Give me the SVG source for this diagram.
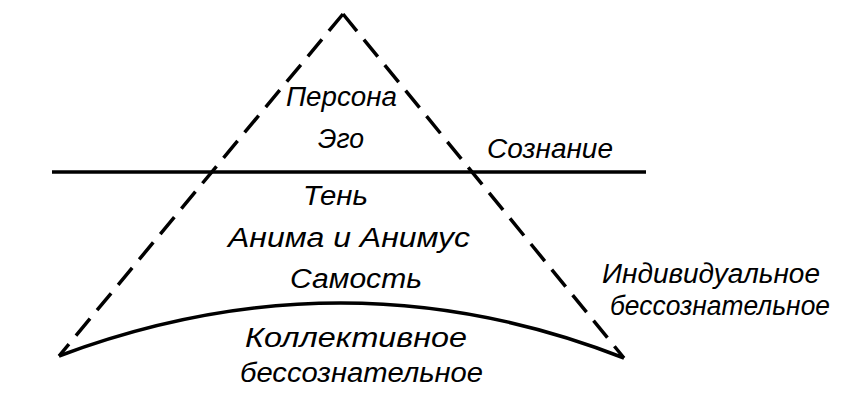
<svg xmlns="http://www.w3.org/2000/svg" width="857" height="413" viewBox="0 0 857 413">
<style>
.t{font-family:"Liberation Sans","DejaVu Sans",sans-serif;font-style:italic;font-size:27px;fill:#000}
.m{text-anchor:middle}
.d{fill:none;stroke:#000;stroke-width:3.5;stroke-dasharray:22 11;stroke-linecap:butt}
.s{fill:none;stroke:#000;stroke-width:3.5}
</style>
<rect width="857" height="413" fill="#fff"/>
<g id="connectors">
<line class="d" x1="343" y1="14" x2="59" y2="356"/>
<line class="d" x1="343" y1="14" x2="624" y2="358"/>
<line class="s" x1="52" y1="172" x2="646" y2="172"/>
<path class="s" d="M59,356 Q345,249 624,358"/>
</g>
<g id="persona"><text class="t" x="286" y="106" textLength="111" lengthAdjust="spacingAndGlyphs">Персона</text></g>
<g id="ego"><text class="t" x="318" y="148" textLength="46" lengthAdjust="spacingAndGlyphs">Эго</text></g>
<g id="soznanie"><text class="t" x="487" y="158" textLength="126" lengthAdjust="spacingAndGlyphs">Сознание</text></g>
<g id="ten"><text class="t" x="303" y="205" textLength="65" lengthAdjust="spacingAndGlyphs">Тень</text></g>
<g id="anima"><text class="t" x="228" y="247" textLength="242" lengthAdjust="spacingAndGlyphs">Анима и Анимус</text></g>
<g id="samost"><text class="t" x="290" y="288" textLength="132" lengthAdjust="spacingAndGlyphs">Самость</text></g>
<g id="collective"><text class="t" x="245" y="347" textLength="222" lengthAdjust="spacingAndGlyphs">Коллективное</text>
<text class="t" x="240" y="382" textLength="243" lengthAdjust="spacingAndGlyphs">бессознательное</text></g>
<g id="individual"><text class="t" x="602" y="283" textLength="218" lengthAdjust="spacingAndGlyphs">Индивидуальное</text>
<text class="t" x="610" y="315" textLength="220" lengthAdjust="spacingAndGlyphs">бессознательное</text></g>
</svg>
